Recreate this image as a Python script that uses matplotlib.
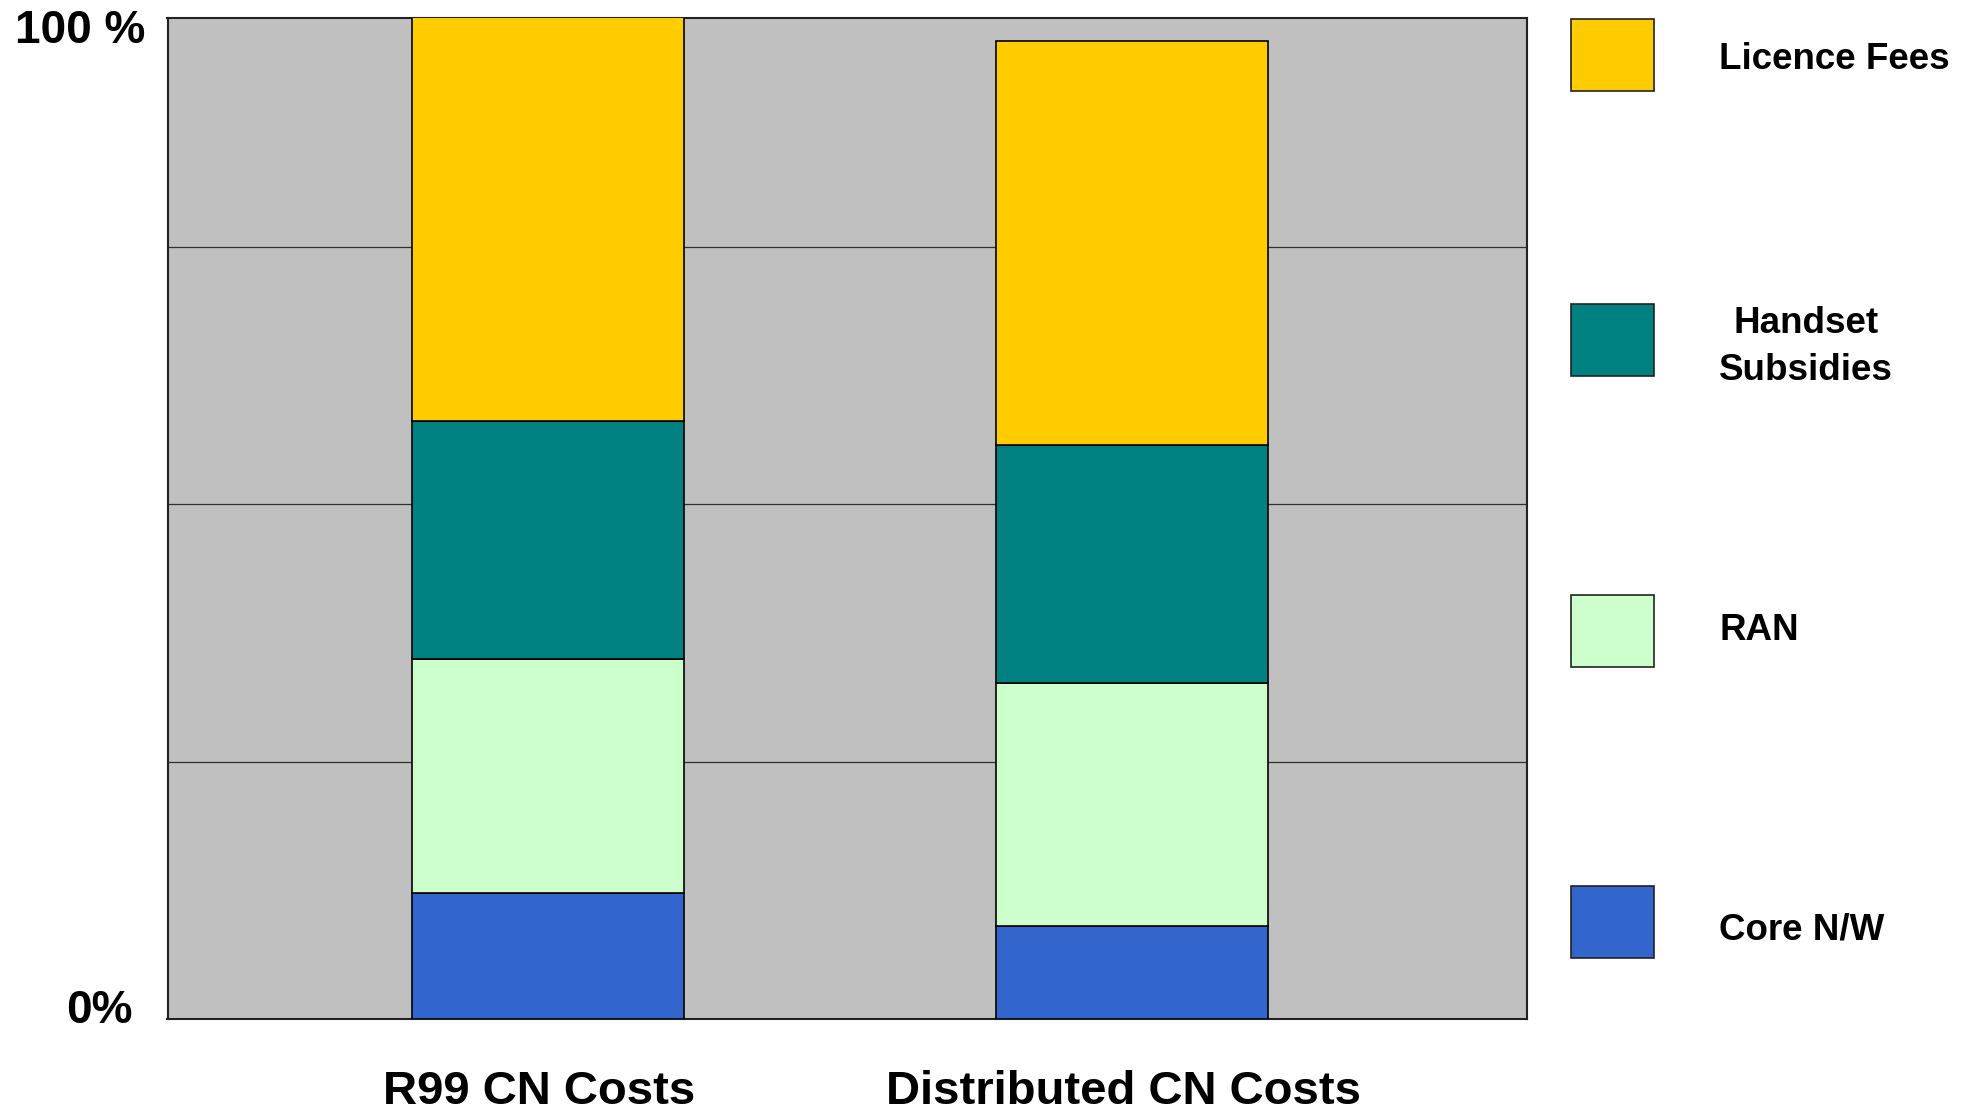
import numpy as np
import matplotlib
matplotlib.use("Agg")
import matplotlib.pyplot as plt
from matplotlib.patches import Rectangle
from matplotlib.transforms import ScaledTranslation, blended_transform_factory

plt.rcParams['font.family'] = ['Liberation Sans', 'DejaVu Sans']
plt.rcParams['font.weight'] = 'bold'

# Cost breakdown, percent of the R99 total
categories = ['R99 CN Costs', 'Distributed CN Costs']
series_names = ['Core N/W', 'RAN', 'Handset\nSubsidies', 'Licence Fees']
core_nw = [12.6, 9.3]
ran = [23.3, 24.2]
handset_subsidies = [23.8, 23.8]
licence_fees = [40.3, 40.4]
series_colors = ['#3366CC', '#CCFFCC', '#008080', '#FFCC00']
y_tick_labels = ['0%', '100 %']

W, H = 1975, 1111
fig = plt.figure(figsize=(W / 100, H / 100), dpi=100)
fig.patch.set_facecolor('white')


def fx(px):
    return px / W


def fy(py):
    return 1 - py / H


ax = fig.add_axes([fx(167.5), fy(1019), fx(1527) - fx(167.5), fy(17.5) - fy(1019)])
ax.set_facecolor('#C0C0C0')

series = [core_nw, ran, handset_subsidies, licence_fees]
x = np.arange(len(categories))
bottom = np.zeros(len(categories))
for vals, col in zip(series, series_colors):
    ax.bar(x, vals, width=0.466, bottom=bottom, color=col,
           edgecolor='black', linewidth=1.2, zorder=3)
    bottom += np.array(vals)

ax.set_xlim(-0.652, 1.676)
ax.set_ylim(0, 100)

# horizontal grid bands
ax.set_yticks([])
ax.set_yticks(np.arange(1, 4) * 25.7, minor=True)
ax.tick_params(axis='y', which='both', length=0, labelleft=False)
ax.grid(axis='y', which='minor', color='#303030', linewidth=0.9, zorder=1)
ax.set_axisbelow(True)

for s in ax.spines.values():
    s.set_color('#222222')
    s.set_linewidth(1.5)

ax.set_xticks(x)
ax.set_xticklabels(categories, fontsize=34, fontweight='bold')
ax.tick_params(axis='x', length=0, pad=37)
for lab in ax.get_xticklabels():
    lab.set_transform(lab.get_transform() + ScaledTranslation(-0.09, 0, fig.dpi_scale_trans))

# y-axis end labels
trans = blended_transform_factory(ax.transAxes, ax.transData)
ax.text(-0.0254, -0.37, y_tick_labels[0], transform=trans, ha='right', va='baseline',
        fontsize=33, fontweight='bold')
ax.text(-0.0166, 97.42, y_tick_labels[1], transform=trans, ha='right', va='baseline',
        fontsize=33, fontweight='bold')

# legend, top to bottom
legend_tops = [19, 304, 595, 886]
legend_baselines = [69.3, 380, 640, 939]
order = [3, 2, 1, 0]
for top, base, idx in zip(legend_tops, legend_baselines, order):
    fig.add_artist(Rectangle((fx(1570.7), fy(top + 72)), fx(1654.3) - fx(1570.7),
                             fy(top) - fy(top + 72), transform=fig.transFigure,
                             facecolor=series_colors[idx], edgecolor='#222222', linewidth=1.2))
    name = series_names[idx]
    if '\n' in name:
        fig.text(fx(1806), fy(base), name, ha='center', va='baseline', multialignment='center',
                 fontsize=26.5, fontweight='bold', linespacing=1.45)
    else:
        fig.text(fx(1719), fy(base), name, ha='left', va='baseline',
                 fontsize=26.5, fontweight='bold')

fig.savefig('out.png', dpi=100, facecolor='white')
